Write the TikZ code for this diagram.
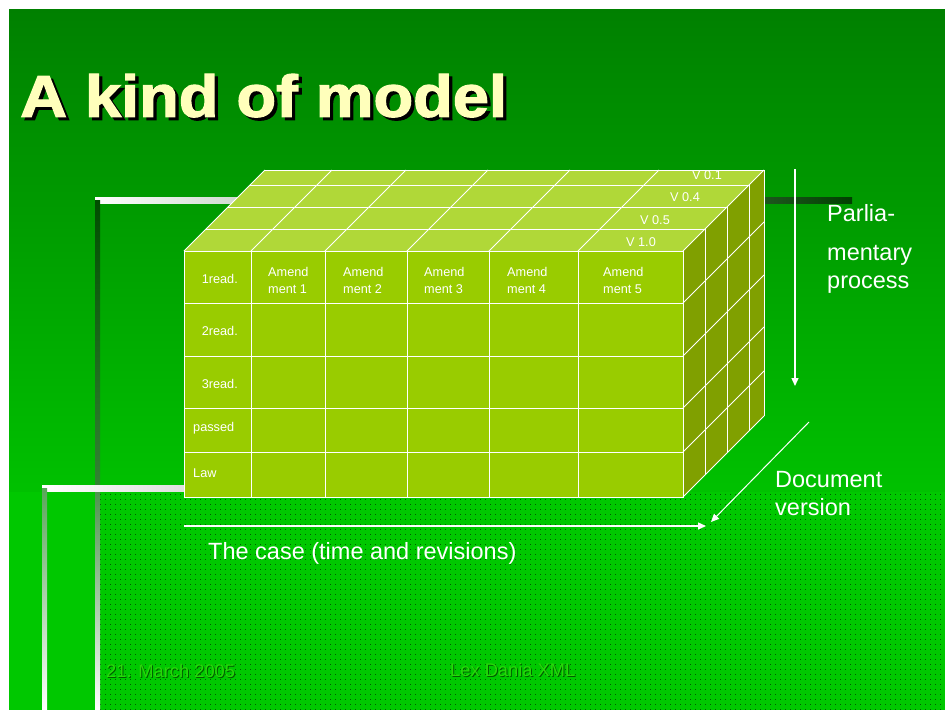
\documentclass[tikz,border=0pt]{standalone}
\usepackage{fontspec}
\setmainfont{Liberation Sans}
\newfontfamily\titlefont[FakeBold=2]{Liberation Sans Bold}
\usepackage{tikz}
\usetikzlibrary{arrows.meta}
\usetikzlibrary{patterns}

\definecolor{slidetop}{RGB}{0,128,0}
\definecolor{slidebot}{RGB}{0,200,0}
\definecolor{frontface}{RGB}{153,204,0}
\definecolor{topface}{RGB}{176,216,56}
\definecolor{sideface}{RGB}{128,160,0}
\definecolor{titlecol}{RGB}{255,255,187}
\definecolor{footcol}{RGB}{40,215,10}
\definecolor{footshadow}{RGB}{0,95,0}
\definecolor{dotcol}{RGB}{0,95,0}

\pgfdeclarepatternformonly{slidedots}{\pgfpoint{-1pt}{-1pt}}{\pgfpoint{6pt}{6pt}}{\pgfpoint{5pt}{5pt}}{%
  \pgfpathrectangle{\pgfpointorigin}{\pgfpoint{1.1pt}{1pt}}\pgfusepath{fill}}

\newcommand{\shadowtext}[4]{\makebox[0pt][l]{\hspace{#1}\raisebox{-#1}{\textcolor{#2}{#4}}}\textcolor{#3}{#4}}

\begin{document}
\begin{tikzpicture}[x=1pt,y=-1pt,
  grid/.style={white,line width=0.9pt},
  cell/.style={font=\fontsize{12.7}{16.4}\selectfont,text=white,inner sep=0pt,align=left},
  bigtext/.style={font=\fontsize{23.5}{28}\selectfont,text=white,inner sep=0pt,align=left},
  foot/.style={font=\fontsize{18.3}{22}\selectfont,inner sep=0pt},
  arrowline/.style={white,line width=1.3pt,-{Triangle[length=8pt,width=7pt]}}]
\useasboundingbox (0,0) rectangle (945,710);
\fill[white] (0,0) rectangle (945,710);
\shade[top color=slidetop,bottom color=slidebot!90!slidetop] (9,9) rectangle (945,492);
\fill[slidebot] (9,492) rectangle (945,710);
\fill[pattern=slidedots,pattern color=dotcol] (100,492) rectangle (945,710);

\shade[left color=white,right color=green!25!black] (95,197) rectangle (852,203);
\shade[top color=green!30!black,bottom color=green!40!black!80!white] (95,200) rectangle (100,492);
\shade[top color=green!40!black!70!white,bottom color=white] (95,492) rectangle (100,710);
\shade[left color=white,right color=gray!25] (42,485) rectangle (184,491);
\shade[top color=gray!70!green,bottom color=white] (42,488) rectangle (47,710);

\fill[topface] (184,251) -- (683,251) -- (764,170) -- (265,170) -- cycle;
\fill[sideface] (683,251) -- (764,170) -- (764,416) -- (683,497) -- cycle;
\fill[frontface] (184,251) rectangle (683,497);
\foreach \cx in {251,325,407,489,578} \draw[grid] (\cx,251) -- (\cx,497);
\foreach \ry in {303,356,408,452} \draw[grid] (184,\ry) -- (683,\ry);
\draw[grid] (184,251) rectangle (683,497);
\foreach \k in {22,44,66} \draw[grid] (184+\k,251-\k) -- (683+\k,251-\k);
\draw[grid] (265,170) -- (764,170);
\foreach \cx in {184,251,325,407,489,578,683} \draw[grid] (\cx,251) -- (\cx+81,170);
\foreach \k in {22,44,66,81} \draw[grid] (683+\k,251-\k) -- (683+\k,497-\k);
\foreach \ry in {303,356,408,452,497} \draw[grid] (683,\ry) -- (764,\ry-81);

\node[cell,anchor=east] (read1) at (238,279) {1read.};
\node[cell,anchor=east] (read2) at (238,331) {2read.};
\node[cell,anchor=east] (read3) at (238,384) {3read.};
\node[cell,anchor=west] (passed) at (193,428) {passed};
\node[cell,anchor=west] (law) at (193,473) {Law};
\node[cell,anchor=west] (amend1) at (268,280.5) {Amend\\ment 1};
\node[cell,anchor=west] (amend2) at (343,280.5) {Amend\\ment 2};
\node[cell,anchor=west] (amend3) at (424,280.5) {Amend\\ment 3};
\node[cell,anchor=west] (amend4) at (507,280.5) {Amend\\ment 4};
\node[cell,anchor=west] (amend5) at (603,280.5) {Amend\\ment 5};
\node[cell] (v01) at (707,175) {V 0.1};
\node[cell] (v04) at (685,197) {V 0.4};
\node[cell] (v05) at (655,220) {V 0.5};
\node[cell] (v10) at (641,242) {V 1.0};

\coordinate (procTop) at (795,169);
\coordinate (procEnd) at (795,386);
\coordinate (verTop) at (809,422);
\coordinate (verEnd) at (711,522);
\coordinate (caseStart) at (184,526);
\coordinate (caseEnd) at (706,526);
\draw[arrowline] (procTop) -- (procEnd);
\draw[arrowline,line width=1pt] (verTop) -- (verEnd);
\draw[arrowline] (caseStart) -- (caseEnd);

\node[bigtext,anchor=west] (parlia) at (827,213) {Parlia-};
\node[bigtext,anchor=west] (process) at (827,269.5) {mentary\\process};
\node[bigtext,anchor=west] (docver) at (775,494) {Document\\version};
\node[bigtext,anchor=west] (thecase) at (208,553) {The case (time and revisions)};

\node[anchor=base west,inner sep=0pt,xscale=1.1,font=\titlefont\fontsize{59}{60}\selectfont] (title) at (20,116.7) {\shadowtext{3pt}{black}{titlecol}{A kind of model}};

\node[foot,anchor=west] (date) at (106,671) {\shadowtext{1pt}{footshadow}{footcol}{21. March 2005}};
\node[foot,anchor=west] (lex) at (450,670) {\shadowtext{1pt}{footshadow}{footcol}{Lex Dania XML}};
\end{tikzpicture}
\end{document}
